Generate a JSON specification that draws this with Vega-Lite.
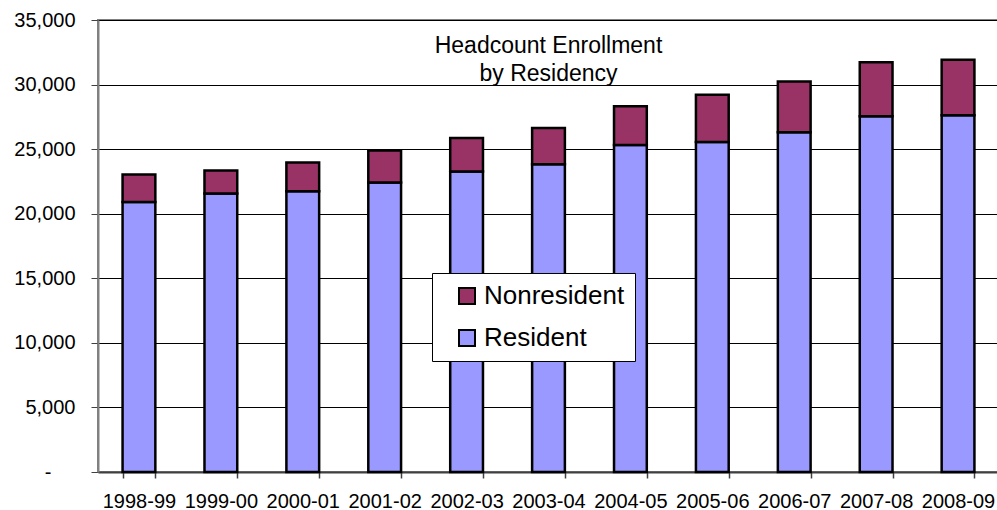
{
  "$schema": "https://vega.github.io/schema/vega-lite/v6.json",
  "autosize": {"type": "none"},
  "padding": {"left": 98, "top": 20, "right": 0, "bottom": 38},
  "width": 901,
  "height": 452,
  "background": "white",
  "config": {
    "font": "Liberation Sans",
    "view": {"stroke": "#808080", "strokeWidth": 2}
  },
  "title": {
    "text": ["Headcount Enrollment", "by Residency"],
    "font": "Liberation Sans",
    "fontSize": 23,
    "fontWeight": "normal",
    "color": "black",
    "anchor": "middle",
    "frame": "group",
    "offset": -76,
    "lineHeight": 28
  },
  "data": {
    "values": [
      {"year": "1998-99", "type": "Resident", "count": 20900},
      {"year": "1998-99", "type": "Nonresident", "count": 2130},
      {"year": "1999-00", "type": "Resident", "count": 21560},
      {"year": "1999-00", "type": "Nonresident", "count": 1780},
      {"year": "2000-01", "type": "Resident", "count": 21740},
      {"year": "2000-01", "type": "Nonresident", "count": 2220},
      {"year": "2001-02", "type": "Resident", "count": 22410},
      {"year": "2001-02", "type": "Nonresident", "count": 2480},
      {"year": "2002-03", "type": "Resident", "count": 23260},
      {"year": "2002-03", "type": "Nonresident", "count": 2610},
      {"year": "2003-04", "type": "Resident", "count": 23830},
      {"year": "2003-04", "type": "Nonresident", "count": 2810},
      {"year": "2004-05", "type": "Resident", "count": 25320},
      {"year": "2004-05", "type": "Nonresident", "count": 3000},
      {"year": "2005-06", "type": "Resident", "count": 25560},
      {"year": "2005-06", "type": "Nonresident", "count": 3660},
      {"year": "2006-07", "type": "Resident", "count": 26300},
      {"year": "2006-07", "type": "Nonresident", "count": 3930},
      {"year": "2007-08", "type": "Resident", "count": 27540},
      {"year": "2007-08", "type": "Nonresident", "count": 4190},
      {"year": "2008-09", "type": "Resident", "count": 27620},
      {"year": "2008-09", "type": "Nonresident", "count": 4310}
    ]
  },
  "mark": {"type": "bar", "stroke": "black", "strokeWidth": 2.5},
  "encoding": {
    "x": {
      "field": "year",
      "type": "nominal",
      "sort": null,
      "scale": {"paddingInner": 0.6, "paddingOuter": 0.3},
      "axis": {
        "title": null,
        "labelAngle": 0,
        "labelFont": "Liberation Sans",
        "labelFontSize": 20,
        "labelColor": "black",
        "labelPadding": 13,
        "tickBand": "extent",
        "tickSize": 6,
        "tickColor": "#404040",
        "tickWidth": 1.5,
        "domainColor": "#404040",
        "domainWidth": 2,
        "grid": false
      }
    },
    "y": {
      "field": "count",
      "type": "quantitative",
      "stack": "zero",
      "scale": {"domain": [0, 35000], "nice": false},
      "axis": {
        "title": null,
        "values": [0, 5000, 10000, 15000, 20000, 25000, 30000, 35000],
        "labelExpr": "datum.value == 0 ? '-' : format(datum.value, ',')",
        "labelFont": "Liberation Sans",
        "labelFontSize": 20,
        "labelColor": "black",
        "labelPadding": {"condition": {"test": "datum.value == 0", "value": 40}, "value": 16},
        "tickSize": 7,
        "tickColor": "#404040",
        "domainColor": "#808080",
        "domainWidth": 2,
        "grid": true,
        "gridColor": "black",
        "gridWidth": 1
      }
    },
    "color": {
      "field": "type",
      "type": "nominal",
      "scale": {"domain": ["Nonresident", "Resident"], "range": ["#993366", "#9999FF"]},
      "legend": {
        "title": null,
        "orient": "none",
        "legendX": 334,
        "legendY": 253,
        "direction": "vertical",
        "fillColor": "white",
        "strokeColor": "black",
        "padding": 10,
        "symbolOffset": 12,
        "symbolType": "square",
        "symbolSize": 256,
        "symbolStrokeColor": "black",
        "symbolStrokeWidth": 2,
        "labelFont": "Liberation Sans",
        "labelFontSize": 26,
        "labelColor": "black",
        "labelOffset": 4,
        "labelLimit": 400,
        "rowPadding": 16
      }
    },
    "order": {"field": "type", "sort": "descending"}
  }
}
